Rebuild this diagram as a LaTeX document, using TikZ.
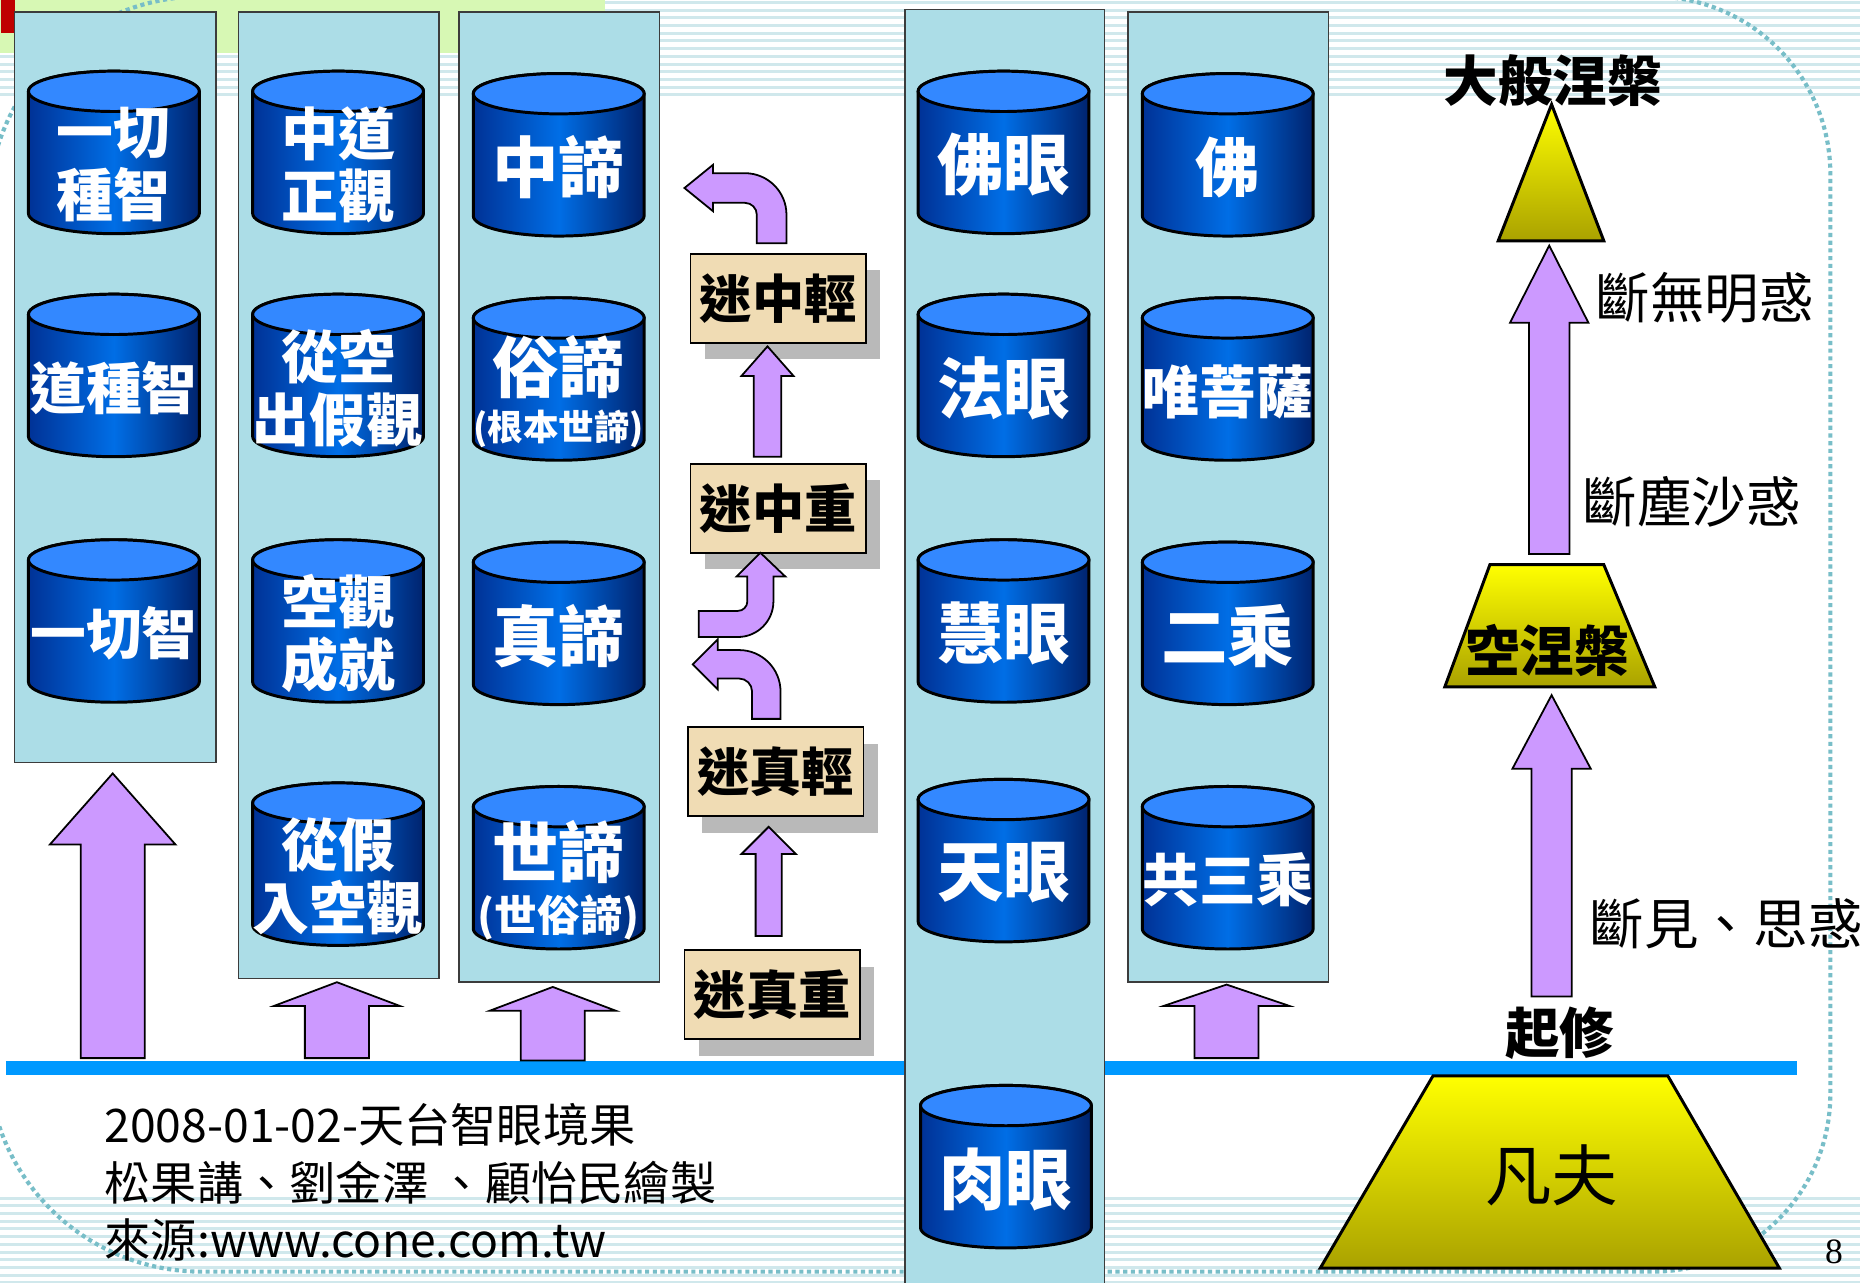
\documentclass[tikz,border=0pt]{standalone}
\usepackage{fontspec}
\setmainfont{Liberation Sans}
\newfontfamily\cjk{Noto Sans CJK TC}
\newfontfamily\wmfont{Liberation Serif}
\usetikzlibrary{shadows}

\definecolor{panelc}{RGB}{172,221,231}
\definecolor{panelb}{RGB}{60,60,60}
\definecolor{purp}{RGB}{204,153,255}
\definecolor{tanc}{RGB}{240,220,180}
\definecolor{lineblue}{RGB}{0,153,255}
\definecolor{cyltopc}{RGB}{51,136,255}
\definecolor{cyldarkL}{RGB}{0,50,150}
\definecolor{cyldarkR}{RGB}{0,35,110}
\definecolor{cylmid}{RGB}{0,110,230}
\definecolor{yel}{RGB}{255,255,0}
\definecolor{olivec}{RGB}{170,162,0}
\definecolor{stripec}{RGB}{208,232,236}
\definecolor{dotc}{RGB}{120,190,200}
\definecolor{greenhdr}{RGB}{215,248,180}
\definecolor{shadowc}{RGB}{185,185,185}

\tikzset{
  panel/.style={draw=panelb, line width=1.2pt, fill=panelc},
  cylbody/.style={draw=black, line width=2.5pt, left color=cyldarkL, right color=cyldarkR, middle color=cylmid},
  cyltop/.style={draw=black, line width=2.5pt, fill=cyltopc},
  cyltext/.style={text=white, align=center, inner sep=0pt},
  arrowshape/.style={draw=black, line width=1.5pt, fill=purp, line join=miter},
  tanbox/.style={draw=black, line width=1.5pt, fill=tanc, minimum width=148pt, minimum height=75pt, inner sep=0pt,
    font=\cjk\bfseries\fontsize{44}{44}\selectfont,
    drop shadow={shadow xshift=12pt, shadow yshift=-14pt, fill=shadowc, opacity=1}},
  yshape/.style={draw=black, line width=2.5pt, top color=yel, bottom color=olivec},
  lbl/.style={font=\cjk\fontsize{46}{46}\selectfont, inner sep=0pt},
  lblb/.style={font=\cjk\bfseries\fontsize{46}{46}\selectfont, inner sep=0pt},
}

% name, cx, top, fontsize, baselineskip, text
\newcommand\mycyl[6]{%
\begin{scope}[shift={(#2,-#3)}]
\draw[cylbody] (-72,-17) -- (-72,-120) arc[start angle=180,end angle=360,x radius=72,y radius=17] -- (72,-17) arc[start angle=0,end angle=180,x radius=72,y radius=17] -- cycle;
\draw[cyltop] (0,-17) ellipse[x radius=72,y radius=17];
\node[cyltext,font=\cjk\bfseries\fontsize{#4}{#5}\selectfont] (#1) at (0,-79) {#6};
\end{scope}}

% name, cx, bottom, tip, headbase, halfshaft, halfhead
\newcommand\uparr[7]{%
\draw[arrowshape] ({#2-#6},-#3) -- ({#2-#6},-#5) -- ({#2-#7},-#5) -- (#2,-#4) coordinate (#1) -- ({#2+#7},-#5) -- ({#2+#6},-#5) -- ({#2+#6},-#3) -- cycle;}

\begin{document}
\begin{tikzpicture}[x=1pt,y=1pt]
\useasboundingbox (0,0) rectangle (1568,-1081);
\fill[white] (0,0) rectangle (1568,-1081);

% background stripes
\foreach \yy in {2,8.5,...,80} \draw[stripec, line width=2.5pt] (0,-\yy) -- (1568,-\yy);
\foreach \yy in {1010,1016.5,...,1082} \draw[stripec, line width=2.5pt] (0,-\yy) -- (1568,-\yy);

% header band
\fill[greenhdr] (0,0) rectangle (510,-45);
\fill[red!75!black] (1,0) rectangle (13,-28);

% dotted outline
\draw[dotc, line width=3.5pt, dash pattern=on 3.5pt off 3pt]
  (170,3) -- (1393,3) arc[start angle=90,end angle=0,radius=150]
  -- (1543,-922) arc[start angle=0,end angle=-90,radius=150]
  -- (170,-1072) arc[start angle=270,end angle=180,radius=180]
  -- (-10,-177) arc[start angle=180,end angle=90,radius=180] -- cycle;

% blue ground line
\draw[lineblue, line width=12pt] (5,-900.5) coordinate (gl) -- (1515,-900.5) coordinate (gr);

% panels
\draw[panel] (12,-10) rectangle (182,-643);
\draw[panel] (201,-10) rectangle (370,-825);
\draw[panel] (387,-10) rectangle (556,-828);
\draw[panel] (763,-8) rectangle (931,-1090);
\draw[panel] (951,-10) rectangle (1120,-828);

% cylinders
\mycyl{c11}{96}{60}{48}{53}{一切\\種智}
\mycyl{c12}{96}{248}{47}{53}{道種智}
\mycyl{c13}{96}{455}{47}{53}{一切智}

\mycyl{c21}{285}{60}{48}{52}{中道\\正觀}
\mycyl{c22}{285}{248}{48}{53}{從空\\出假觀}
\mycyl{c23}{285}{455}{48}{53}{空觀\\成就}
\mycyl{c24}{285}{660}{48}{53}{從假\\入空觀}

\mycyl{c31}{471}{62}{56}{56}{中諦}
\mycyl{c32}{471}{251}{56}{40}{俗諦\\{\fontsize{30}{30}\selectfont(根本世諦)}}
\mycyl{c33}{471}{457}{56}{56}{真諦}
\mycyl{c34}{471}{663}{56}{45}{世諦\\{\fontsize{36}{36}\selectfont(世俗諦)}}

\mycyl{c41}{846}{60}{56}{56}{佛眼}
\mycyl{c42}{846}{248}{56}{56}{法眼}
\mycyl{c43}{846}{455}{56}{56}{慧眼}
\mycyl{c44}{846}{657}{56}{56}{天眼}
\mycyl{c45}{848}{915}{56}{56}{肉眼}

\mycyl{c51}{1035}{62}{54}{54}{佛}
\mycyl{c52}{1035}{251}{48}{48}{唯菩薩}
\mycyl{c53}{1035}{457}{56}{56}{二乘}
\mycyl{c54}{1035}{663}{48}{48}{共三乘}

% middle tan boxes
\node[tanbox] (mzq) at (656,-251.5) {迷中輕};
\node[tanbox] (mzz) at (656,-428.5) {迷中重};
\node[tanbox] (mtq) at (654,-650.5) {迷真輕};
\node[tanbox] (mtz) at (651,-838.5) {迷真重};

% straight block arrows
\uparr{a1}{95}{892}{652}{712}{27}{53}
\uparr{a2}{284}{892}{828}{848}{27}{53}
\uparr{a3}{466}{894}{832}{852}{27}{53}
\uparr{a4}{1034}{892}{830}{848}{27}{53}
\uparr{a5}{647}{385}{292}{317}{11.5}{22}
\uparr{a6}{648}{789}{697}{720}{11}{23}
\uparr{a7}{1306}{467}{207}{272}{17}{33}
\uparr{a8}{1308}{840}{586}{648}{17}{33}

% bent arrows
\draw[arrowshape] (663,-205) -- (663,-181) arc[start angle=0,end angle=90,radius=35]
  -- (601,-146) -- (601,-139) -- (577,-158.5) coordinate (bA) -- (601,-178) -- (601,-171) -- (628,-171)
  arc[start angle=90,end angle=0,radius=10] -- (638,-205) -- cycle;
\draw[arrowshape] (589,-515) -- (622,-515) arc[start angle=270,end angle=360,radius=8]
  -- (630,-486) -- (621,-486) -- (641,-466) coordinate (bB) -- (662,-486) -- (652,-486) -- (652,-507)
  arc[start angle=0,end angle=-90,radius=30] -- (589,-537) -- cycle;
\draw[arrowshape] (658,-606) -- (658,-583) arc[start angle=0,end angle=90,radius=35]
  -- (605,-548) -- (605,-539) -- (584,-560) coordinate (bC) -- (605,-581) -- (605,-572) -- (623,-572)
  arc[start angle=90,end angle=0,radius=11] -- (634,-606) -- cycle;

% right side figure
\draw[yshape] (1308,-88) coordinate (apex) -- (1352,-203) -- (1263,-203) -- cycle;
\draw[yshape] (1256,-476) -- (1352,-476) -- (1395,-579) -- (1218,-579) -- cycle;
\draw[yshape] (1208,-907) -- (1406,-907) -- (1500,-1069) -- (1113,-1069) -- cycle;

\node[lblb] (dbnp) at (1309,-68) {大般涅槃};
\node[lbl] (dwm) at (1437,-251) {斷無明惑};
\node[lbl] (dcs) at (1426,-423) {斷塵沙惑};
\node[lblb] (knp) at (1304,-548) {空涅槃};
\node[lbl, anchor=west] (djs) at (1340,-779) {斷見、思惑};
\node[lblb] (qx) at (1315,-871) {起修};
\node[font=\cjk\fontsize{56}{56}\selectfont, inner sep=0pt] (ff) at (1308,-991) {凡夫};

% footer
\node[anchor=west, font=\cjk\fontsize{39}{48.5}\selectfont, align=left, inner sep=0pt] (foot) at (88,-997)
  {2008-01-02-天台智眼境果\\松果講、劉金澤 、顧怡民繪製\\來源:www.cone.com.tw};
\node[font=\wmfont\fontsize{30}{30}\selectfont, anchor=base, inner sep=0pt] (pg) at (1546,-1065) {8};
\end{tikzpicture}
\end{document}
